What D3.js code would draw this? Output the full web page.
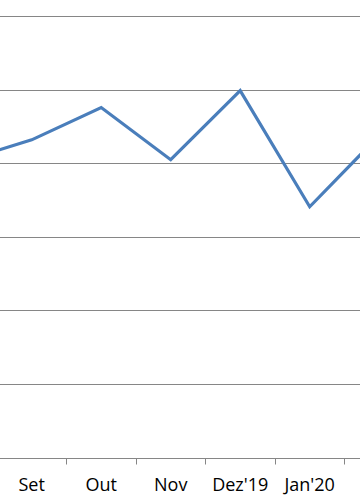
<!DOCTYPE html>
<html>
<head>
<meta charset="utf-8">
<script src="https://cdn.jsdelivr.net/npm/d3@7"></script>
<style>
  body { margin: 0; background: #fff; }
  svg { display: block; }
</style>
</head>
<body>
<div id="chart"></div>
<script>
// Months (first and last fall outside the visible crop)
const months = ["Ago", "Set", "Out", "Nov", "Dez'19", "Jan'20", "Fev"];
// Values
const values = [40.3, 43.2, 47.6, 40.5, 49.9, 34.1, 43.8];
// Gridline values
const yTicks = [0, 10, 20, 30, 40, 50, 60];

let width = 360, height = 504;

let svg = d3.select("#chart")
            .append("svg")
            .attr("width", width)
            .attr("height", height);

// X scale: bands, crop starts in the middle of the first one
let step = 69.5;
let x0 = 31.7 - step * 1.5;
let x = d3.scaleBand()
          .domain(months)
          .range([x0, x0 + step * months.length]);

// Y scale
let y = d3.scaleLinear()
          .domain([0, 60])
          .range([457.5, 16.3]);

// Gridlines
svg.append("g")
   .selectAll("line")
   .data(yTicks.slice(1))
   .enter()
   .append("line")
   .attr("x1", 0)
   .attr("x2", width)
   .attr("y1", d => Math.round(y(d)) + 0.5)
   .attr("y2", d => Math.round(y(d)) + 0.5)
   .attr("stroke", "#868686")
   .attr("stroke-width", 1);

// X axis (only the labels that are inside the crop)
let xAxis = svg.append("g")
   .attr("transform", `translate(0, ${Math.round(y(0)) + 0.5})`)
   .call(d3.axisBottom(x)
           .tickValues(months.slice(1, -1))
           .tickSize(0)
           .tickPadding(20));

xAxis.select(".domain").remove();
xAxis.append("line")
     .attr("x1", 0)
     .attr("x2", width)
     .attr("stroke", "#868686")
     .attr("stroke-width", 1);

// Tick marks at the band boundaries
xAxis.selectAll(".bound")
     .data(months.slice(1))
     .enter()
     .append("line")
     .attr("class", "bound")
     .attr("x1", d => Math.round(x(d)) + 0.5)
     .attr("x2", d => Math.round(x(d)) + 0.5)
     .attr("y1", 0)
     .attr("y2", 6)
     .attr("stroke", "#868686");

xAxis.selectAll(".tick text")
     .attr("fill", "#000")
     .style("font-family", "'Open Sans', sans-serif")
     .style("font-size", "18px");

// Line
let line = d3.line()
             .x((d, i) => x(months[i]) + x.bandwidth() / 2)
             .y(d => y(d));

svg.append("path")
   .datum(values)
   .attr("fill", "none")
   .attr("stroke", "#4a7ebb")
   .attr("stroke-width", 3.2)
   .attr("stroke-linejoin", "miter")
   .attr("d", line);
</script>
</body>
</html>
